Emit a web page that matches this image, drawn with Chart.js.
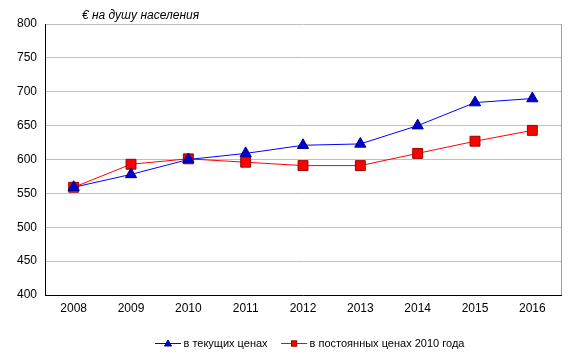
<!DOCTYPE html>
<html><head><meta charset="utf-8">
<script src="https://cdn.jsdelivr.net/npm/chart.js@4/dist/chart.umd.min.js"></script>
<style>html,body{margin:0;padding:0;background:#fff;}#wrap{width:574px;height:357px;}</style>
</head><body><div id="wrap"><canvas id="c" width="574" height="357"></canvas></div>
<script>
const years = ['2008','2009','2010','2011','2012','2013','2014','2015','2016'];
const currentPrices = [559, 578, 600, 609, 621, 623, 650, 684, 690];
const constantPrices = [559, 593, 601, 596, 591, 591, 609, 627, 643];
const yTicks = [400, 450, 500, 550, 600, 650, 700, 750, 800];
const unitLabel = '€ на душу населения';
const seriesNames = ['в текущих ценах', 'в постоянных ценах 2010 года'];

const FONT = '"Liberation Sans", Arial, sans-serif';

const extras = {
  id: 'extras',
  afterDraw(chart) {
    const {ctx, chartArea} = chart;
    ctx.save();
    // right border
    ctx.strokeStyle = '#a0a0a0'; ctx.lineWidth = 1;
    const rx = Math.round(chartArea.right) + 0.5;
    ctx.beginPath(); ctx.moveTo(rx, chartArea.top); ctx.lineTo(rx, chartArea.bottom); ctx.stroke();
    // unit label
    ctx.fillStyle = '#000';
    ctx.font = 'italic 12px ' + FONT;
    ctx.textBaseline = 'alphabetic';
    ctx.fillText(unitLabel, 82, 19);
    // legend
    ctx.font = '11px ' + FONT;
    ctx.textBaseline = 'middle';
    const ly = 343;
    const ds = chart.data.datasets;
    let x = 155;
    ds.forEach((d, i) => {
      ctx.strokeStyle = d.borderColor; ctx.lineWidth = 1;
      ctx.beginPath(); ctx.moveTo(x, ly + 0.5); ctx.lineTo(x + 26, ly + 0.5); ctx.stroke();
      ctx.fillStyle = d.pointBackgroundColor; ctx.strokeStyle = d.pointBorderColor;
      const cx = x + 13;
      if (d.pointStyle === 'triangle') {
        ctx.beginPath(); ctx.moveTo(cx, ly - 3); ctx.lineTo(cx + 3.5, ly + 3); ctx.lineTo(cx - 3.5, ly + 3); ctx.closePath(); ctx.fill(); ctx.stroke();
      } else {
        ctx.fillRect(cx - 3, ly - 2.5, 6, 6); ctx.strokeRect(cx - 2.5, ly - 2, 5, 5);
      }
      ctx.fillStyle = '#000';
      ctx.fillText(d.label, x + 28.5, ly + 1);
      x += 28.5 + ctx.measureText(d.label).width + 13.5;
    });
    ctx.restore();
  }
};

new Chart(document.getElementById('c'), {
  type: 'line',
  data: {
    labels: years,
    datasets: [
      {label: seriesNames[0], data: currentPrices, borderColor: '#0000ff', borderWidth: 1,
       pointStyle: 'triangle', pointRadius: 6.5, pointBackgroundColor: '#0000cc', pointBorderColor: '#00008b', pointBorderWidth: 1, tension: 0},
      {label: seriesNames[1], data: constantPrices, borderColor: '#ff0000', borderWidth: 1,
       pointStyle: 'rect', pointRadius: 7, pointBackgroundColor: '#ff0000', pointBorderColor: '#990000', pointBorderWidth: 1, tension: 0}
    ]
  },
  options: {
    responsive: false, animation: false, devicePixelRatio: 1,
    layout: {padding: {top: 24, right: 13, left: 0, bottom: 32}},
    plugins: {
      tooltip: {enabled: false},
      legend: {display: false}
    },
    scales: {
      x: {
        offset: true,
        grid: {display: false, drawTicks: false},
        border: {color: '#000', width: 1},
        ticks: {color: '#000', font: {family: FONT, size: 12}, padding: 6, maxRotation: 0},
        afterFit(s) { s.height = 30; }
      },
      y: {
        min: 400, max: 800,
        afterBuildTicks(s) { s.ticks = yTicks.map(v => ({value: v})); },
        grid: {color: '#c0c0c0', drawTicks: false},
        border: {color: '#000', width: 1},
        ticks: {color: '#000', font: {family: FONT, size: 12}, padding: 8},
        afterFit(s) { s.width = 45; }
      }
    }
  },
  plugins: [extras]
});
</script></body></html>
